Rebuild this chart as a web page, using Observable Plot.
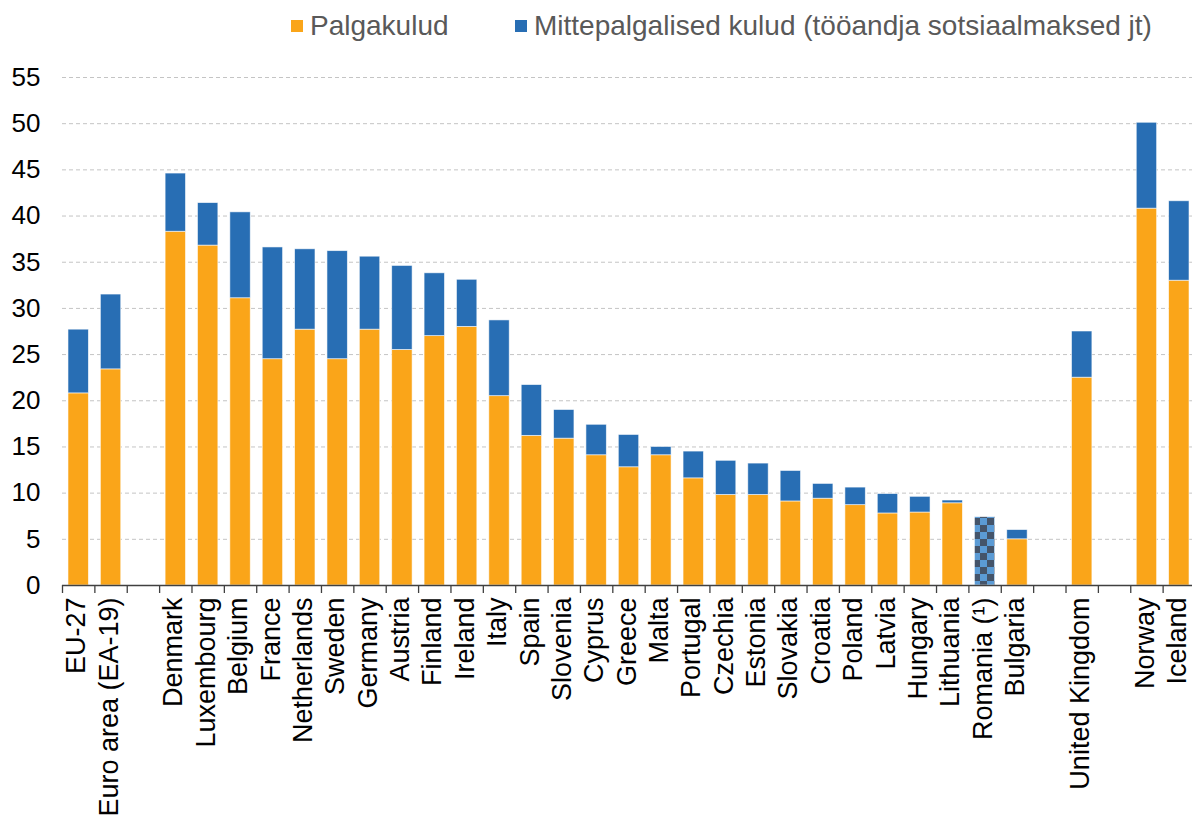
<!DOCTYPE html>
<html>
<head>
<meta charset="utf-8">
<script src="https://cdn.jsdelivr.net/npm/d3@7"></script>
<script src="https://cdn.jsdelivr.net/npm/@observablehq/plot@0.6"></script>
<style>
  body { margin: 0; background: #fff; font-family: "Liberation Sans", Arial, sans-serif; }
  #legend { position: relative; height: 56px; width: 1192px; }
  .item { position: absolute; top: 10px; display: flex; align-items: center; font-size: 28px; color: #595959; white-space: nowrap; }
  .swatch { width: 12px; height: 12px; margin-right: 7px; }
</style>
</head>
<body>
<div id="legend"></div>
<div id="chart"></div>
<script>
// Hourly labour costs, split into wage costs and non-wage costs
const categories = [
  "EU-27", "Euro area (EA-19)", "gap1",
  "Denmark", "Luxembourg", "Belgium", "France", "Netherlands", "Sweden", "Germany",
  "Austria", "Finland", "Ireland", "Italy", "Spain", "Slovenia", "Cyprus", "Greece",
  "Malta", "Portugal", "Czechia", "Estonia", "Slovakia", "Croatia", "Poland", "Latvia",
  "Hungary", "Lithuania", "Romania (¹)", "Bulgaria", "gap2",
  "United Kingdom", "gap3",
  "Norway", "Iceland"
];

// Palgakulud (wage and salary costs); null where only the total is known
const wageCosts = [
  20.8, 23.4, null,
  38.3, 36.8, 31.1, 24.5, 27.7, 24.5, 27.7,
  25.5, 27.0, 28.0, 20.5, 16.2, 15.9, 14.1, 12.8,
  14.1, 11.6, 9.8, 9.8, 9.1, 9.4, 8.7, 7.8,
  7.9, 8.9, null, 5.0, null,
  22.5, null,
  40.8, 33.0
];

// Mittepalgalised kulud (employer social contributions etc.)
const nonWageCosts = [
  6.9, 8.1, null,
  6.3, 4.6, 9.3, 12.1, 8.7, 11.7, 7.9,
  9.1, 6.8, 5.1, 8.2, 5.5, 3.1, 3.3, 3.5,
  0.9, 2.9, 3.7, 3.4, 3.3, 1.6, 1.9, 2.1,
  1.7, 0.3, null, 1.0, null,
  5.0, null,
  9.3, 8.6
];

// Countries with only a total available (no breakdown)
const totalOnlyCategories = ["Romania (¹)"];
const totalOnlyValues = [7.4];

const seriesNames = ["Palgakulud", "Mittepalgalised kulud (tööandja sotsiaalmaksed jt)"];
const seriesColors = ["#faa519", "#286eb4"];
const yTicks = [0, 5, 10, 15, 20, 25, 30, 35, 40, 45, 50, 55];

const isGap = (c) => c.startsWith("gap");

// Long table for the stacked bars
const stacked = [];
categories.forEach((c, i) => {
  if (wageCosts[i] != null) {
    stacked.push({category: c, series: seriesNames[0], value: wageCosts[i]});
    stacked.push({category: c, series: seriesNames[1], value: nonWageCosts[i]});
  }
});
const totals = totalOnlyCategories.map((c, i) => ({category: c, value: totalOnlyValues[i]}));

// Legend
const legend = document.getElementById("legend");
const legendLeft = [291, 515];
seriesNames.forEach((name, i) => {
  const item = document.createElement("div");
  item.className = "item";
  item.style.left = legendLeft[i] + "px";
  item.innerHTML = `<span class="swatch" style="background:${seriesColors[i]}"></span><span>${name}</span>`;
  legend.appendChild(item);
});

const width = 1192;
const height = 762;
const marginLeft = 62;
const xRange = [marginLeft, 1195];
const step = (xRange[1] - xRange[0]) / categories.length;

const chart = Plot.plot({
  width,
  height,
  marginLeft,
  marginRight: 0,
  marginTop: 21,
  marginBottom: 233,
  style: {fontFamily: "Liberation Sans, Arial, sans-serif", fontSize: "26px", background: "#fff", overflow: "visible"},
  x: {domain: categories, range: xRange, round: false, paddingInner: 0.37, paddingOuter: 0.185, label: null},
  y: {domain: [0, 55], label: null},
  color: {domain: seriesNames, range: seriesColors},
  marks: [
    Plot.ruleY(yTicks.filter((d) => d > 0), {stroke: "#c4c4c4", strokeWidth: 1, strokeDasharray: "4,3"}),
    Plot.barY(stacked, {
      x: "category", y: "value", fill: "series",
      stroke: "#ffffff", strokeWidth: 0.8, strokeOpacity: 0.7
    }),
    Plot.barY(totals, {
      x: "category", y: "value", fill: "url(#checker)",
      stroke: "#ffffff", strokeWidth: 0.8, strokeOpacity: 0.7
    }),
    Plot.ruleY([0], {stroke: "#404040", strokeWidth: 1.3}),
    // tick marks at the category boundaries
    Plot.axisX({ticks: categories, tickSize: 8, text: null, dx: -step / 2, stroke: "#404040", strokeWidth: 1.3}),
    // category labels
    Plot.axisX({
      ticks: categories.filter((c) => !isGap(c)),
      tickSize: 0, tickPadding: 12, tickRotate: -90, dx: -2,
      fontSize: 27, fill: "#000", label: null
    }),
    Plot.axisY({ticks: yTicks, tickSize: 0, tickPadding: 22, fontSize: 26, fill: "#000", label: null})
  ]
});

// checkered fill for bars with a total only
const defs = d3.select(chart).insert("defs", ":first-child");
const pat = defs.append("pattern")
  .attr("id", "checker")
  .attr("patternUnits", "userSpaceOnUse")
  .attr("width", 14).attr("height", 14);
pat.append("rect").attr("width", 14).attr("height", 14).attr("fill", "#5b9bd5");
pat.append("rect").attr("x", 7).attr("y", 0).attr("width", 7).attr("height", 7).attr("fill", "#44546a");
pat.append("rect").attr("x", 0).attr("y", 7).attr("width", 7).attr("height", 7).attr("fill", "#44546a");

document.getElementById("chart").appendChild(chart);
</script>
</body>
</html>
